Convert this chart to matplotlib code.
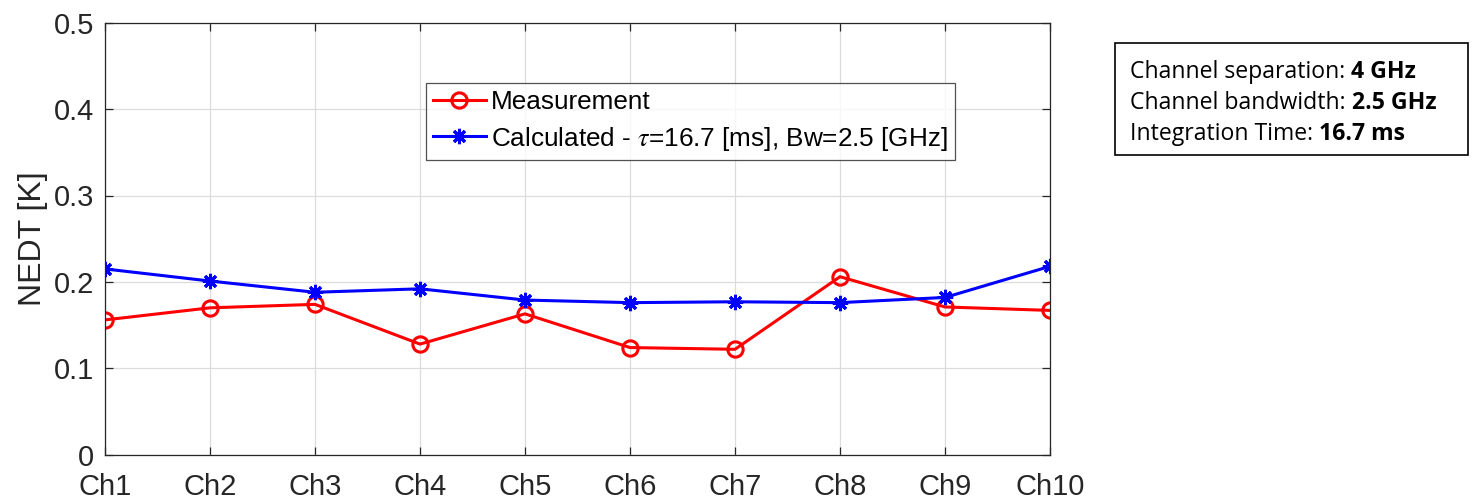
import matplotlib
matplotlib.use("Agg")
import matplotlib.pyplot as plt
from matplotlib.patches import Rectangle
from matplotlib.offsetbox import TextArea, HPacker, VPacker, AnchoredOffsetbox

channels = ["Ch1", "Ch2", "Ch3", "Ch4", "Ch5", "Ch6", "Ch7", "Ch8", "Ch9", "Ch10"]
measurement = [0.156, 0.170, 0.174, 0.128, 0.163, 0.124, 0.122, 0.206, 0.171, 0.167]
calculated = [0.215, 0.201, 0.188, 0.192, 0.179, 0.176, 0.177, 0.176, 0.182, 0.218]
yticks = [0, 0.1, 0.2, 0.3, 0.4, 0.5]
ytick_labels = ["0", "0.1", "0.2", "0.3", "0.4", "0.5"]
info_labels = ["Channel separation: ", "Channel bandwidth: ", "Integration Time: "]
info_values = ["4 GHz", "2.5 GHz", "16.7 ms"]

plt.rcParams['font.family'] = ['Liberation Sans', 'DejaVu Sans']
plt.rcParams['mathtext.fontset'] = 'stix'

W, H = 1472, 500
fig = plt.figure(figsize=(W / 100, H / 100), dpi=100)
ax = fig.add_axes([105 / W, 45.3 / H, 945 / W, 432 / H])

x = list(range(len(channels)))
ax.plot(x, measurement, color='#ff0000', lw=2.2, marker='o', ms=11,
        mfc='none', mew=2.2, label='Measurement')
ax.plot(x, calculated, color='#0000ff', lw=2.2, marker=(8, 2, 0), ms=11,
        mew=2.2, label=r'Calculated - $\tau$=16.7 [ms], Bw=2.5 [GHz]')

ax.set_xlim(0, len(channels) - 1)
ax.set_ylim(0, 0.5)
ax.set_xticks(x)
ax.set_xticklabels(channels)
ax.set_yticks(yticks)
ax.set_yticklabels(ytick_labels)
ax.grid(True, color='#dcdcdc', lw=0.9)
ax.set_axisbelow(True)
for s in ax.spines.values():
    s.set_color('#262626')
    s.set_linewidth(0.9)
ax.tick_params(direction='in', length=6, width=0.9, color='#262626',
               labelsize=21, labelcolor='#262626', top=True, right=True)
ax.tick_params(axis='y', pad=8)
ax.tick_params(axis='x', pad=13)
ax.set_ylabel('NEDT [K]', fontsize=23, color='#262626', labelpad=4)

leg = ax.legend(loc='upper left', bbox_to_anchor=(0.3397, 0.861), fontsize=18.8,
                frameon=True, fancybox=False, edgecolor='#262626',
                borderpad=0.28, handlelength=2.0, handletextpad=0.2,
                labelspacing=0.4, borderaxespad=0)
leg.get_frame().set_linewidth(0.9)

fig.add_artist(Rectangle((1115 / W, (H - 155) / H), 353 / W, 112 / H,
                         transform=fig.transFigure, fill=False,
                         edgecolor='black', lw=1.2))
rows = []
for lab, val in zip(info_labels, info_values):
    rows.append(HPacker(children=[
        TextArea(lab, textprops=dict(fontsize=16.6, family=['Open Sans', 'DejaVu Sans'])),
        TextArea(val, textprops=dict(fontsize=16.6, fontweight='bold', family=['Open Sans', 'DejaVu Sans'])),
    ], align='baseline', pad=0, sep=0))
box = VPacker(children=rows, align='left', pad=0, sep=5)
anch = AnchoredOffsetbox(loc='upper left', child=box, pad=0, borderpad=0,
                         frameon=False, bbox_to_anchor=(1130 / W, (H - 60) / H),
                         bbox_transform=fig.transFigure)
fig.add_artist(anch)

fig.savefig('out.png', dpi=100)
